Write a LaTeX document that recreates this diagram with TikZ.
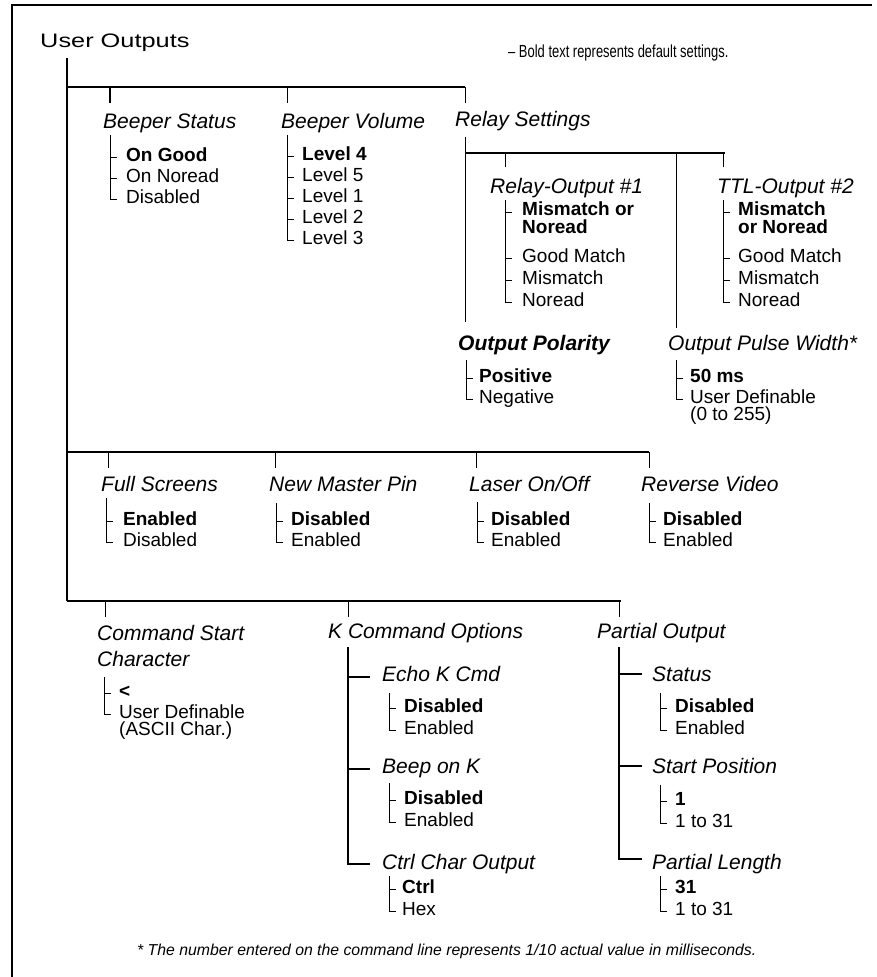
\documentclass[tikz,border=0pt]{standalone}
\usepackage{fontspec}
\setmainfont{Liberation Sans}
\newfontfamily\titlefont[FakeStretch=1.3]{Liberation Sans}
\newfontfamily\legendfont[FakeStretch=0.74]{Liberation Sans}
% bracket: x, top y, last dash y, list of other dash y
\newcommand\Brk[4]{%
  \draw[brk] (#1,#2) -- (#1,#3) -- ++(7,0);
  \foreach \yy in {#4} {\draw[brk] (#1,\yy) -- ++(7,0);}%
}
\begin{document}
\begin{tikzpicture}[x=1pt,y=-1pt,
  frame/.style={line width=2.4pt},
  trunk/.style={line width=2.5pt},
  bar/.style={line width=2pt},
  tick/.style={line width=1pt},
  kline/.style={line width=1.4pt},
  brk/.style={line width=0.9pt},
  hd/.style={font=\fontsize{21}{24}\selectfont\itshape, anchor=base west, inner sep=0pt},
  hdb/.style={font=\fontsize{21}{24}\selectfont\bfseries\itshape, anchor=base west, inner sep=0pt},
  val/.style={font=\fontsize{19}{21}\selectfont, anchor=base west, inner sep=0pt},
  valb/.style={font=\fontsize{19}{21}\selectfont\bfseries, anchor=base west, inner sep=0pt},
  two/.style={align=left, font=\fontsize{19}{17.5}\selectfont},
  twob/.style={align=left, font=\fontsize{19}{17.5}\selectfont\bfseries},
]
\useasboundingbox (0,0) rectangle (877,977);
% frame
\coordinate (fTL) at (12,5); \coordinate (fTR) at (872,5); \coordinate (fBL) at (12,977);
\draw[frame] (fTR) -- (fTL) -- (fBL);

\node[font=\fontsize{19.5}{22}\selectfont\titlefont, anchor=base west, inner sep=0pt] (title) at (40,47) {User Outputs};
\node[font=\fontsize{17.5}{20}\selectfont\legendfont, anchor=base west, inner sep=0pt] (legend) at (508,57) {– Bold text represents default settings.};

% trunk
\coordinate (trTop) at (67,58); \coordinate (trBot) at (67,601);
\draw[trunk] (trTop) -- (trBot);

% ---------- row 1
\coordinate (r1a) at (67,87); \coordinate (r1b) at (465,87);
\draw[bar] (r1a) -- (r1b);
\draw[bar] (110,87) -- (110,103);
\draw[tick] (287,87) -- (287,103);
\draw[tick] (465,87) -- (465,103);
\node[hd] (bs) at (103,128) {Beeper Status};
\node[hd] (bv) at (281,128) {Beeper Volume};
\node[hd] (rs) at (455,126) {Relay Settings};

\Brk{110}{135}{199}{157,178}
\node[valb] (bs1) at (126,161) {On Good};
\node[val] (bs2) at (126,182) {On Noread};
\node[val] (bs3) at (126,203) {Disabled};

\Brk{287}{135}{240}{156,177,198,219}
\node[valb] (bv1) at (302,160) {Level 4};
\node[val] (bv2) at (302,181) {Level 5};
\node[val] (bv3) at (302,202) {Level 1};
\node[val] (bv4) at (302,223) {Level 2};
\node[val] (bv5) at (302,244) {Level 3};

% relay settings
\draw[tick] (465,137) -- (465,322);
\draw[bar] (465,153) -- (725,153);
\draw[tick] (505,153) -- (505,167);
\draw[tick] (676,153) -- (676,328);
\draw[tick] (723,153) -- (723,167);
\node[hd] (ro) at (490,193) {Relay-Output \#1};
\node[hd] (tt) at (717,193) {TTL-Output \#2};

\Brk{505}{200}{302}{212,258,280}
\node[valb, twob] (ro1) at (522,233) {Mismatch or\\Noread};
\node[val] (ro2) at (522,262) {Good Match};
\node[val] (ro3) at (522,284) {Mismatch};
\node[val] (ro4) at (522,306) {Noread};

\Brk{723}{200}{302}{212,258,280}
\node[valb, twob] (tt1) at (738,233) {Mismatch\\or Noread};
\node[val] (tt2) at (738,262) {Good Match};
\node[val] (tt3) at (738,284) {Mismatch};
\node[val] (tt4) at (738,306) {Noread};

\node[hdb] (op) at (458,350) {Output Polarity};
\node[hd] (opw) at (668,350) {Output Pulse Width*};
\Brk{466}{360}{399}{378}
\node[valb] (op1) at (479,382) {Positive};
\node[val] (op2) at (479,403) {Negative};
\Brk{676}{360}{399}{378}
\node[valb] (pw1) at (690,382) {50 ms};
\node[val, two] (pw2) at (690,420.5) {User Definable\\(0 to 255)};

% ---------- row 2
\coordinate (r2a) at (67,452); \coordinate (r2b) at (649,452);
\draw[bar] (r2a) -- (r2b);
\foreach \xx in {108,275,476,649} {\draw[tick] (\xx,452) -- (\xx,468);}
\node[hd] (fs) at (101,491) {Full Screens};
\node[hd] (nm) at (269,491) {New Master Pin};
\node[hd] (lz) at (469,491) {Laser On/Off};
\node[hd] (rv) at (641,491) {Reverse Video};

\Brk{106}{498}{542}{521}
\node[valb] (fs1) at (123,525) {Enabled};
\node[val] (fs2) at (123,546) {Disabled};
\Brk{276}{503}{542}{521}
\node[valb] (nm1) at (291,525) {Disabled};
\node[val] (nm2) at (291,546) {Enabled};
\Brk{477}{502}{542}{521}
\node[valb] (lz1) at (491,525) {Disabled};
\node[val] (lz2) at (491,546) {Enabled};
\Brk{649}{503}{542}{521}
\node[valb] (rv1) at (663,525) {Disabled};
\node[val] (rv2) at (663,546) {Enabled};

% ---------- row 3
\coordinate (r3a) at (67,601); \coordinate (r3b) at (621,601);
\draw[bar] (r3a) -- (r3b);
\foreach \xx in {105,348,619} {\draw[tick] (\xx,601) -- (\xx,617);}
\node[hd, align=left, font=\fontsize{21}{26}\selectfont\itshape] (cs) at (97,666) {Command Start\\Character};
\node[hd] (kc) at (328,638) {K Command Options};
\node[hd] (po) at (597,638) {Partial Output};

\Brk{104}{677}{714}{693}
\node[valb] (cs3) at (119,697) {<};
\node[val, two] (cs4) at (119,735.5) {User Definable\\(ASCII Char.)};

% K command options
\draw[kline] (348,647) -- (348,864) -- (370,864);
\draw[kline] (348,677) -- (370,677);
\draw[kline] (348,769) -- (370,769);
\node[hd] (ek) at (382,681) {Echo K Cmd};
\node[hd] (bk) at (382,773) {Beep on K};
\node[hd] (cc) at (382,869) {Ctrl Char Output};
\Brk{389}{693}{730}{708}
\node[valb] (ek1) at (404,712) {Disabled};
\node[val] (ek2) at (404,734) {Enabled};
\Brk{389}{783}{822}{800}
\node[valb] (bk1) at (404,804) {Disabled};
\node[val] (bk2) at (404,826) {Enabled};
\Brk{389}{876}{911}{889}
\node[valb] (cc1) at (402,893) {Ctrl};
\node[val] (cc2) at (402,915) {Hex};

% partial output
\draw[kline] (619,647) -- (619,859) -- (642,859);
\draw[kline] (619,674) -- (642,674);
\draw[kline] (619,766) -- (642,766);
\node[hd] (st) at (652,681) {Status};
\node[hd] (sp) at (652,773) {Start Position};
\node[hd] (pl) at (652,869) {Partial Length};
\Brk{660}{693}{730}{708}
\node[valb] (st1) at (675,712) {Disabled};
\node[val] (st2) at (675,734) {Enabled};
\Brk{660}{785}{823}{801}
\node[valb] (sp1) at (675,805) {1};
\node[val] (sp2) at (675,827) {1 to 31};
\Brk{660}{876}{911}{889}
\node[valb] (pl1) at (675,893) {31};
\node[val] (pl2) at (675,915) {1 to 31};

\node[font=\fontsize{15.8}{18}\selectfont\itshape, anchor=base west, inner sep=0pt] (note) at (137,955) {* The number entered on the command line represents 1/10 actual value in milliseconds.};
\end{tikzpicture}
\end{document}
